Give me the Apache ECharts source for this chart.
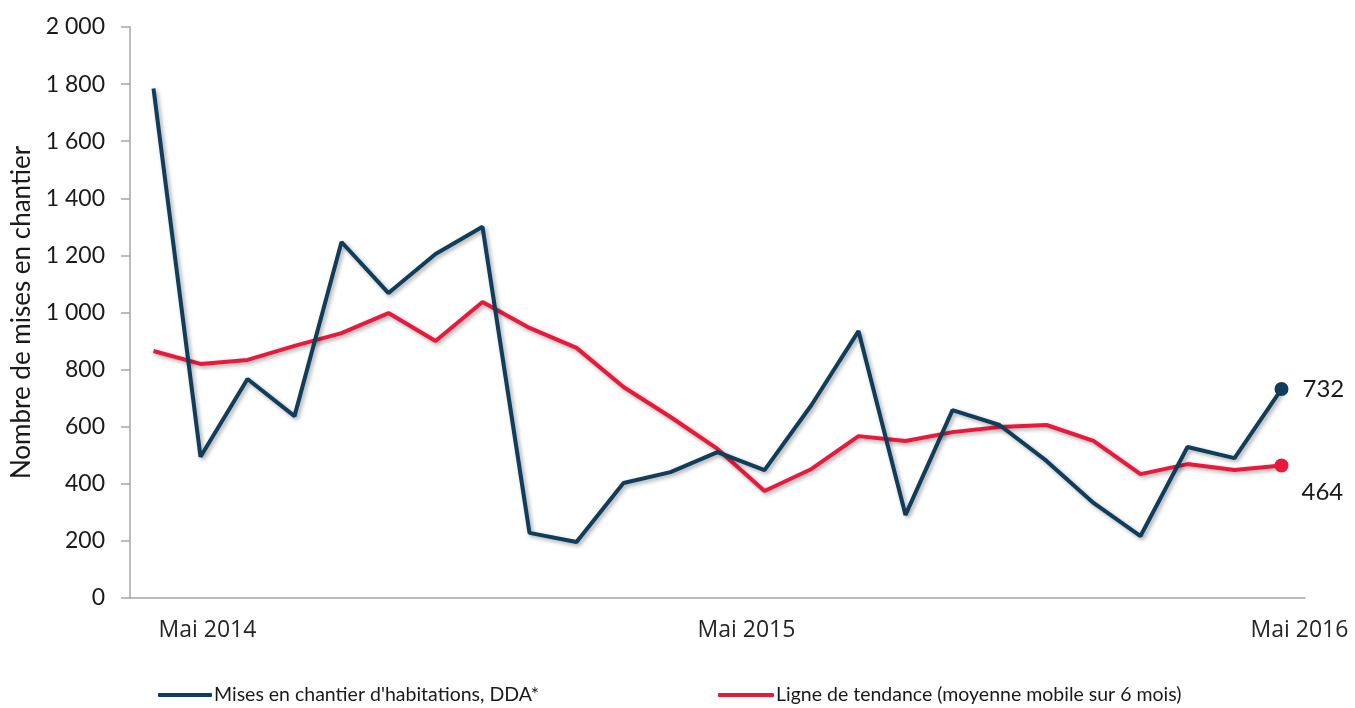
<!DOCTYPE html>
<html>
<head>
<meta charset="utf-8">
<script src="https://cdn.jsdelivr.net/npm/echarts@6/dist/echarts.min.js"></script>
<style>
html,body{margin:0;padding:0;background:#fff;}
#chart{width:1355px;height:708px;}
</style>
</head>
<body>
<div id="chart"></div>
<script>
var months = ['Mai 2014','Juin 2014','Juil 2014','Août 2014','Sept 2014','Oct 2014','Nov 2014','Déc 2014',
  'Jan 2015','Févr 2015','Mars 2015','Avr 2015','Mai 2015','Juin 2015','Juil 2015','Août 2015','Sept 2015',
  'Oct 2015','Nov 2015','Déc 2015','Jan 2016','Févr 2016','Mars 2016','Avr 2016','Mai 2016'];
var shownLabels = [0, 12, 24];
var misesEnChantier = [1785, 495, 767, 637, 1247, 1068, 1205, 1300, 228, 196, 403, 441, 511, 448, 676, 935,
  291, 658, 606, 480, 333, 217, 529, 490, 732];
var tendance = [865, 820, 834, 883, 928, 998, 900, 1037, 946, 876, 739, 634, 522, 375, 452, 567,
  550, 581, 599, 606, 550, 434, 469, 448, 464];
var yTicks = {min: 0, max: 2000, interval: 200};
var seriesNames = ["Mises en chantier d'habitations, DDA*", 'Ligne de tendance (moyenne mobile sur 6 mois)'];

var navy = '#0f3d5c';
var red = '#e8193a';
var shadow = {shadowColor: 'rgba(0,0,0,0.35)', shadowBlur: 4, shadowOffsetX: 2, shadowOffsetY: 2};

function lastOnly(arr) {
  return arr.map(function (v, i) {
    if (i === arr.length - 1) {
      return {value: v, symbol: 'circle', symbolSize: 14};
    }
    return v;
  });
}

var chart = echarts.init(document.getElementById('chart'));
chart.setOption({
  animation: false,
  backgroundColor: '#fff',
  grid: {left: 130, right: 50, top: 27, bottom: 110, containLabel: false},
  legend: [
    {
      left: 153, top: 680, itemWidth: 54, itemHeight: 4, icon: 'roundRect',
      data: [seriesNames[0]],
      textStyle: {fontFamily: 'Lato', fontSize: 19.5, color: '#1a1a1a', padding: [0, 0, 0, -3]}
    },
    {
      left: 713, top: 680, itemWidth: 56, itemHeight: 4, icon: 'roundRect',
      data: [seriesNames[1]],
      textStyle: {fontFamily: 'Lato', fontSize: 19.5, color: '#1a1a1a', padding: [0, 0, 0, -3]}
    }
  ],
  xAxis: {
    type: 'category',
    data: months,
    boundaryGap: true,
    axisLine: {lineStyle: {color: '#a6a6a6', width: 1.5}},
    axisTick: {show: false},
    axisLabel: {
      interval: function (i) { return shownLabels.indexOf(i) >= 0; },
      margin: 21,
      formatter: function (v, i) {
        if (i === 0) return '{a|' + v + '}';
        if (i === 12) return '{b|' + v + '}';
        return '{c|' + v + '}';
      },
      rich: {
        a: {fontFamily: 'Open Sans', fontSize: 23, color: '#262626', padding: [0, 0, 0, 108]},
        b: {fontFamily: 'Open Sans', fontSize: 23, color: '#262626', padding: [0, 0, 0, 58]},
        c: {fontFamily: 'Open Sans', fontSize: 23, color: '#262626', padding: [0, 0, 0, 36]}
      }
    }
  },
  yAxis: {
    type: 'value',
    min: yTicks.min, max: yTicks.max, interval: yTicks.interval,
    name: 'Nombre de mises en chantier',
    nameLocation: 'middle',
    nameGap: 93,
    nameRotate: 90,
    nameTextStyle: {fontFamily: 'Lato', fontSize: 26, color: '#1a1a1a'},
    axisLine: {show: true, lineStyle: {color: '#a6a6a6', width: 1.5}},
    axisTick: {show: true, length: 9, lineStyle: {color: '#a6a6a6', width: 1.5}},
    splitLine: {show: false},
    axisLabel: {
      margin: 25,
      fontFamily: 'Lato', fontSize: 23, color: '#1a1a1a',
      formatter: function (v) {
        return String(v).replace(/\B(?=(\d{3})+(?!\d))/g, ' ');
      }
    }
  },
  series: [
    {
      name: seriesNames[0],
      type: 'line',
      data: lastOnly(misesEnChantier),
      showSymbol: true,
      symbol: 'none',
      itemStyle: {color: navy},
      lineStyle: Object.assign({color: navy, width: 4}, shadow),
      label: {
        show: true,
        formatter: function (p) { return p.dataIndex === misesEnChantier.length - 1 ? p.value : ''; },
        position: 'right', distance: 14,
        fontFamily: 'Lato', fontSize: 24, color: '#1a1a1a'
      },
      z: 3
    },
    {
      name: seriesNames[1],
      type: 'line',
      data: lastOnly(tendance),
      showSymbol: true,
      symbol: 'none',
      itemStyle: {color: red},
      lineStyle: Object.assign({color: red, width: 4}, shadow),
      label: {
        show: true,
        formatter: function (p) { return p.dataIndex === tendance.length - 1 ? p.value : ''; },
        position: 'right', offset: [8, 27],
        fontFamily: 'Lato', fontSize: 24, color: '#1a1a1a'
      },
      z: 2
    }
  ]
});
</script>
</body>
</html>
